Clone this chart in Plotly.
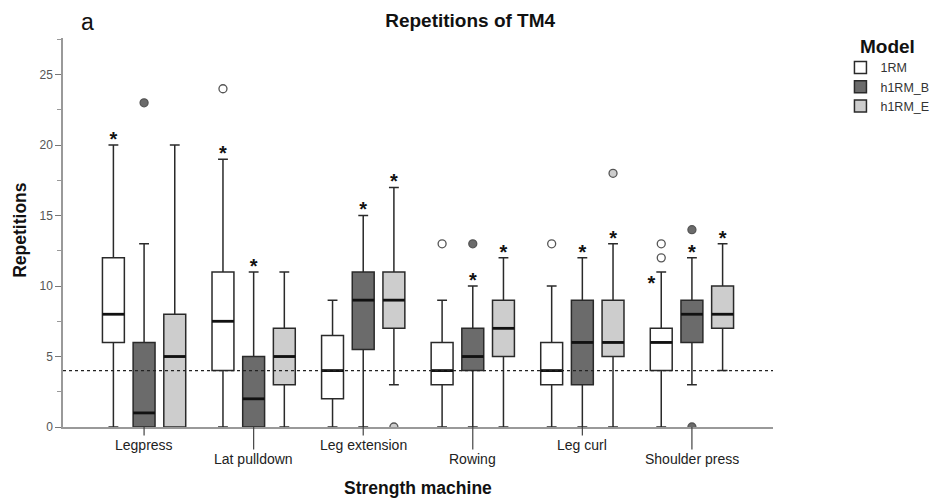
import plotly.graph_objects as go

categories = ["Legpress", "Lat pulldown", "Leg extension", "Rowing", "Leg curl", "Shoulder press"]
series = ["1RM", "h1RM_B", "h1RM_E"]

q1_1rm = [6, 4, 2, 3, 3, 4]
med_1rm = [8, 7.5, 4, 4, 4, 6]
q3_1rm = [12, 11, 6.5, 6, 6, 7]
lo_1rm = [0, 0, 0, 0, 0, 0]
hi_1rm = [20, 19, 9, 9, 10, 11]

q1_b = [0, 0, 5.5, 4, 3, 6]
med_b = [1, 2, 9, 5, 6, 8]
q3_b = [6, 5, 11, 7, 9, 9]
lo_b = [0, 0, 0, 0, 0, 3]
hi_b = [13, 11, 15, 10, 12, 12]

q1_e = [0, 3, 7, 5, 5, 7]
med_e = [5, 5, 9, 7, 6, 8]
q3_e = [8, 7, 11, 9, 9, 10]
lo_e = [0, 0, 3, 0, 0, 4]
hi_e = [20, 11, 17, 12, 13, 13]

# outliers: (category index, value)
out_1rm = [(1, 24), (3, 13), (4, 13), (5, 12), (5, 13)]
out_b = [(0, 23), (3, 13), (5, 14), (5, 0)]
out_e = [(2, 0), (4, 18)]

# significance stars per category
star_1rm = [1, 1, 0, 0, 0, 1]
star_b = [0, 1, 1, 1, 1, 1]
star_e = [0, 0, 1, 1, 1, 1]

reference_line = 4

fills = ["#ffffff", "#6b6b6b", "#cdcdcd"]
offsets = [-0.28, 0.0, 0.28]
box_w = 0.2
FONT = "Arial, Liberation Sans, sans-serif"

stats = [
    (q1_1rm, med_1rm, q3_1rm, lo_1rm, hi_1rm, out_1rm, star_1rm),
    (q1_b, med_b, q3_b, lo_b, hi_b, out_b, star_b),
    (q1_e, med_e, q3_e, lo_e, hi_e, out_e, star_e),
]

fig = go.Figure()

for s, (q1, med, q3, lo, hi, outs, stars) in enumerate(stats):
    xs = [i + offsets[s] for i in range(len(categories))]
    fig.add_trace(go.Box(
        name=series[s], x=xs, q1=q1, median=med, q3=q3,
        lowerfence=lo, upperfence=hi, width=box_w,
        fillcolor=fills[s], line=dict(color="#2a2a2a", width=1.5),
        whiskerwidth=0.45, boxpoints=False, hoverinfo="skip",
    ))

for s, (q1, med, q3, lo, hi, outs, stars) in enumerate(stats):
    # thick median lines
    mx, my = [], []
    for i, m in enumerate(med):
        c = i + offsets[s]
        mx += [c - box_w / 2, c + box_w / 2, None]
        my += [m, m, None]
    fig.add_trace(go.Scatter(x=mx, y=my, mode="lines", showlegend=False,
                             line=dict(color="#111111", width=2.8), hoverinfo="skip"))
    # outliers
    fig.add_trace(go.Scatter(
        x=[i + offsets[s] for i, v in outs], y=[v for i, v in outs], mode="markers",
        showlegend=False, hoverinfo="skip", cliponaxis=True,
        marker=dict(symbol="circle", size=8, color=fills[s], line=dict(color="#555555", width=1.3)),
    ))
    # stars
    sx, sy = [], []
    for i, f in enumerate(stars):
        if f:
            if s == 0 and i == 5:
                sx.append(i + offsets[s] - 0.09)
                sy.append(hi[i] - 0.9)
            else:
                sx.append(i + offsets[s])
                sy.append(hi[i] + 0.3)
    fig.add_trace(go.Scatter(x=sx, y=sy, mode="text", text=["<b>*</b>"] * len(sx),
                             textposition="middle center", showlegend=False, hoverinfo="skip",
                             textfont=dict(family=FONT, size=20, color="#111111")))

fig.add_hline(y=reference_line, line=dict(color="#222222", width=1.3, dash="3px,3px"))

# category labels, alternating rows with connecting ticks
for i, c in enumerate(categories):
    lower = i % 2 == 1
    fig.add_annotation(x=i, y=0, xref="x", yref="y", text=c, showarrow=True,
                       arrowhead=0, arrowwidth=1.2, arrowcolor="#444444", ax=0,
                       ay=32 if lower else 18, standoff=0,
                       font=dict(family=FONT, size=14, color="#222222"))

fig.add_annotation(x=-0.060, y=0.508, xref="paper", yref="paper", text="<b>Repetitions</b>",
                   textangle=-90, showarrow=False, xanchor="center", yanchor="middle",
                   font=dict(family=FONT, size=17.5, color="#111111"))
fig.add_annotation(x=0.5, y=-0.157, xref="paper", yref="paper", text="<b>Strength machine</b>",
                   showarrow=False, xanchor="center", yanchor="middle",
                   font=dict(family=FONT, size=17.5, color="#111111"))
fig.add_annotation(x=0.035, y=1.040, xref="paper", yref="paper", text="a",
                   showarrow=False, xanchor="center", yanchor="middle",
                   font=dict(family=FONT, size=23, color="#111111"))

fig.update_layout(
    width=946, height=499,
    margin=dict(l=63, r=163, t=38, b=72),
    paper_bgcolor="white", plot_bgcolor="white",
    boxmode="overlay",
    title=dict(text="<b>Repetitions of TM4</b>", xref="container", x=0.497, xanchor="center",
               yref="container", y=0.96, yanchor="middle",
               font=dict(family=FONT, size=19, color="#111111")),
    legend=dict(x=1.095, xanchor="left", y=1.025, yanchor="top",
                title=dict(text="<b>Model</b>", side="top center",
                           font=dict(family=FONT, size=19, color="#111111")),
                font=dict(family=FONT, size=12.5, color="#333333"),
                itemwidth=30, tracegroupgap=0),
    xaxis=dict(range=[-0.74, 5.74], showgrid=False, zeroline=False, showticklabels=False,
               ticks="", showline=True, linecolor="#999999", linewidth=1.5),
    yaxis=dict(range=[0, 27.6], showgrid=False, zeroline=False, showline=True,
               linecolor="#999999", linewidth=1.5, ticks="outside", ticklen=6,
               tickcolor="#777777", tickvals=[0, 5, 10, 15, 20, 25],
               tickfont=dict(family=FONT, size=12, color="#555555"),
               minor=dict(tickvals=[2.5, 7.5, 12.5, 17.5, 22.5, 27.5], ticks="outside",
                          ticklen=4, tickcolor="#999999")),
    showlegend=True,
)

fig.write_html("out.html", config={"displayModeBar": False},
               post_script="document.body.style.margin='0px';")
